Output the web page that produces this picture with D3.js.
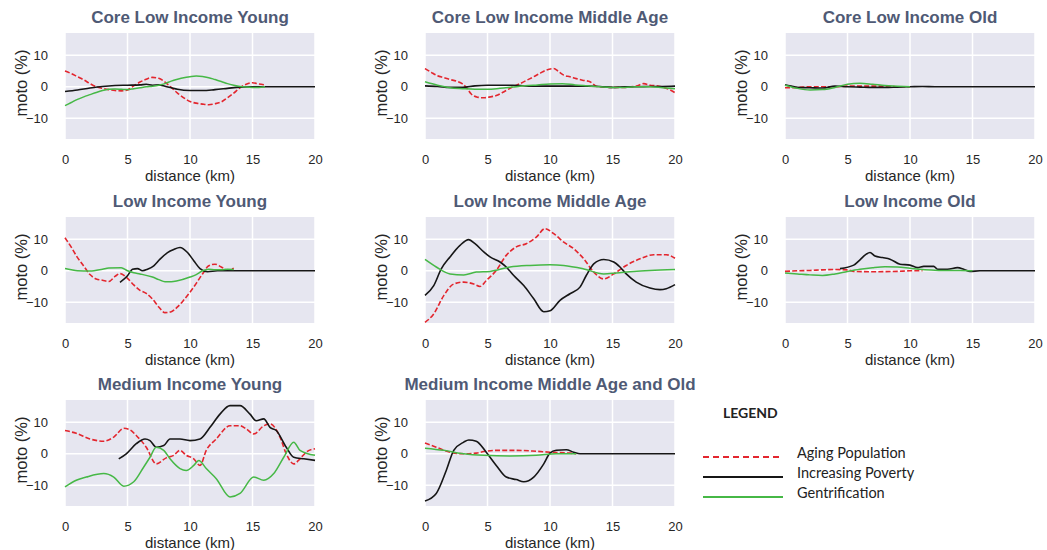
<!DOCTYPE html>
<html>
<head>
<meta charset="utf-8">
<script src="https://cdn.jsdelivr.net/npm/d3@7"></script>
<style>
  body { margin: 0; background: #fff; }
  svg { font-family: "Liberation Sans", Arial, sans-serif; }
  .title { font-weight: bold; font-size: 17px; fill: #4f5a75; }
  .axis text { font-size: 13px; fill: #262626; }
  .lbl { font-size: 15px; fill: #262626; }
  .legend text { font-family: Lato, "Open Sans", sans-serif; fill: #222; }
</style>
</head>
<body>
<div id="chart"></div>
<script>
/**
 * Data (distance km, moto %)
 */
var titles = [
  "Core Low Income Young",
  "Core Low Income Middle Age",
  "Core Low Income Old",
  "Low Income Young",
  "Low Income Middle Age",
  "Low Income Old",
  "Medium Income Young",
  "Medium Income Middle Age and Old"
];
var seriesNames = ["Aging Population", "Increasing Poverty", "Gentrification"];
var xTicks = [0, 5, 10, 15, 20];
var yTicks = [-10, 0, 10];

var coreYoungAging = [[0,5.0],[0.5,4.2],[1,3.2],[1.5,2.2],[2,1.0],[2.5,0.0],[3,-0.5],[3.5,-0.9],[4,-1.2],[4.5,-1.3],[5,-1.0],[5.5,0.3],[6,1.5],[6.5,2.4],[7,3.0],[7.5,2.7],[8,1.5],[8.5,-0.2],[9,-2.0],[9.5,-3.5],[10,-4.7],[10.5,-5.2],[11,-5.5],[11.5,-5.7],[12,-5.4],[12.5,-4.8],[13,-3.5],[13.5,-2.0],[14,-0.3],[14.5,0.8],[15,1.3],[15.5,0.9],[16,0.6]];
var coreYoungPoverty = [[0,-1.5],[1,-1.0],[2,-0.4],[3,0.1],[4,0.4],[5,0.5],[6,0.6],[6.5,0.8],[7,0.5],[7.5,0.6],[8,0.2],[8.5,-0.3],[9,-0.8],[10,-1.2],[11,-1.2],[12,-0.9],[13,-0.5],[14,-0.1],[15,0],[16,0],[17,0],[18,0],[19,0],[20,0]];
var coreYoungGentr = [[0,-6.0],[0.5,-5.0],[1,-4.0],[1.5,-3.2],[2,-2.5],[2.5,-1.8],[3,-1.2],[3.5,-0.8],[4,-0.7],[4.5,-0.8],[5,-0.9],[5.5,-0.6],[6,-0.3],[6.5,0.0],[7,0.2],[7.5,0.5],[8,1.0],[8.5,1.8],[9,2.4],[9.5,2.9],[10,3.2],[10.5,3.4],[11,3.3],[11.5,2.9],[12,2.3],[12.5,1.7],[13,1.0],[13.5,0.5],[14,0.1],[14.5,-0.1],[15,-0.2],[15.5,-0.2],[16,0.0]];

var coreMiddleAging = [[0,5.8],[0.5,4.6],[1,3.5],[1.5,2.9],[2,2.3],[2.5,1.8],[3,0.9],[3.3,-0.2],[3.7,-2.3],[4.2,-3.3],[4.7,-3.5],[5.2,-3.2],[5.7,-2.8],[6.2,-1.8],[6.8,-0.5],[7.2,0.3],[7.6,1.0],[8.2,2.2],[8.7,3.2],[9.2,4.3],[9.7,5.3],[10.3,5.8],[10.7,4.8],[11.1,3.7],[11.6,3.2],[12.1,2.6],[12.6,2.1],[13.2,1.6],[13.7,0.2],[14.3,-0.1],[14.8,-0.2],[15.9,-0.2],[16.9,0.2],[17.5,1.0],[18,0.5],[18.5,0.3],[19.1,-0.2],[19.6,-1.0],[20,-1.9]];
var coreMiddlePoverty = [[0,0.3],[1,0.1],[2,-0.2],[3,-0.2],[4,0.3],[5,0.5],[6,0.5],[7,0.5],[8,0.3],[9,0.2],[10,0.2],[11,0.2],[12,0.2],[13,0.2],[14,0.1],[15,-0.2],[16,0],[17,0],[18,0.1],[19,0.1],[20,0.2]];
var coreMiddleGentr = [[0,1.6],[1,0.5],[2,-0.3],[3,-0.6],[4,-0.8],[5,-0.8],[6,-0.5],[7,-0.1],[8,0.3],[9,0.6],[10,0.9],[11,1.0],[12,0.6],[13,0.3],[14,0],[15,-0.2],[16,-0.2],[17,0],[18,0],[19,-0.3],[20,-0.6]];

var coreOldAging = [[0,-0.3],[1,-0.2],[2,0],[3,0],[4,0],[5,0.2],[6,0.2],[7,0.2],[8,0.2],[9,0],[10,0]];
var coreOldPoverty = [[0,0.6],[0.5,0.2],[1,-0.2],[2,-0.3],[3,-0.4],[4,0.2],[5,0],[6,-0.1],[7,-0.2],[8,-0.2],[9,-0.1],[10,0],[11,0.1],[12,0],[14,0],[16,0],[18,0],[20,0]];
var coreOldGentr = [[0,0.5],[1,-0.5],[2,-1.0],[3,-0.9],[4,-0.2],[5,0.8],[6,1.1],[7,0.8],[8,0.4],[9,0.2],[10,0]];

var lowYoungAging = [[0,10.5],[0.5,7.5],[1,4.2],[1.5,1.5],[2,-1.2],[2.5,-2.6],[3,-3.0],[3.5,-3.4],[4,-1.8],[4.4,-0.9],[5,-2.4],[5.5,-4.5],[6,-6.2],[6.5,-7.2],[7,-9.0],[7.5,-11.5],[8,-13.3],[8.5,-13.0],[9,-11.5],[9.5,-9.3],[10,-6.8],[10.5,-4.0],[11,-1.0],[11.5,1.6],[12,2.1],[12.5,1.2],[13,0.2],[13.5,0.8]];
var lowYoungPoverty = [[4.4,-3.7],[5,-1.6],[5.4,0.5],[5.8,0.7],[6.2,0],[6.6,0.5],[7.1,1.6],[7.6,3.7],[8.2,5.8],[8.7,6.8],[9.2,7.4],[9.8,5.8],[10.3,3.2],[10.8,0.7],[11.4,-0.3],[12.2,0],[14,0],[16,0],[18,0],[20,0]];
var lowYoungGentr = [[0,0.7],[0.5,0.3],[1,0],[2,-0.1],[3,0.5],[3.5,0.9],[4.5,1.0],[5,0],[5.5,-0.6],[6,-1.0],[7,-2.0],[7.5,-2.8],[8,-3.5],[8.5,-3.5],[9,-3.2],[10,-2.0],[10.5,-1.2],[11,0],[11.5,0.5],[12,0.3],[12.5,0.3],[13,0.5],[13.5,0.4]];

var lowMiddleAging = [[0,-16.4],[0.7,-13.7],[1.5,-7.9],[2.3,-4.2],[3.1,-3.6],[3.9,-4.2],[4.4,-5.0],[4.9,-3.1],[5.7,0.1],[6.5,4.9],[7.3,7.6],[8.1,8.6],[8.9,10.7],[9.6,13.4],[10.3,11.8],[11.1,9.1],[11.9,7.0],[12.7,3.8],[13.5,-0.4],[14.3,-2.6],[15.1,-1.0],[16.1,1.7],[17.2,3.8],[18.3,5.1],[19.3,5.1],[20,4.0]];
var lowMiddlePoverty = [[0,-7.8],[0.7,-4.7],[1.3,0.6],[2,4.4],[2.8,8.1],[3.5,9.9],[4,8.6],[4.7,6.0],[5.2,4.4],[6,2.8],[6.5,1.2],[7.1,-1.5],[7.9,-4.7],[8.7,-8.9],[9.5,-13.0],[10,-12.7],[10.8,-9.4],[11.6,-7.3],[12.4,-5.2],[12.9,-1.5],[13.5,2.2],[14.3,3.6],[15.1,2.8],[15.6,1.2],[16.1,-1.0],[16.9,-3.6],[18,-5.5],[18.8,-6.0],[19.3,-5.7],[20,-4.4]];
var lowMiddleGentr = [[0,3.6],[0.9,1.2],[2,-1.0],[3.1,-1.3],[4.1,-0.4],[5.2,-0.2],[6.8,1.2],[8.4,1.7],[10,1.9],[11.1,1.7],[12.7,0.6],[14.3,-1.0],[15.3,-0.7],[16.7,-0.2],[18,0.1],[20,0.4]];

var lowOldAging = [[0,-0.2],[1,0],[2,0.1],[3,0.3],[4,0.4],[5,0.3],[5.5,-0.2],[7,-0.3],[9,-0.2],[10,0],[11,0]];
var lowOldPoverty = [[4.4,0.7],[5.5,1.8],[6,3.5],[6.5,5.3],[6.8,5.8],[7.2,4.7],[7.8,4.2],[8.4,3.7],[9.2,2.1],[10,1.8],[10.6,1.0],[11.1,1.4],[11.9,1.4],[12.2,0.5],[13,0.5],[13.8,1.0],[14.3,0.5],[14.8,-0.2],[15.6,0],[17,0],[18.5,0],[20,0]];
var lowOldGentr = [[0,-0.7],[1,-1.0],[2,-1.3],[3,-1.5],[4,-1.0],[5,-0.2],[6,0.5],[7,1.0],[8,1.3],[9,1.2],[10,0.8],[11,0.4],[12,0.2],[13,0.1],[14,0.1],[15,0]];

var medYoungAging = [[0,7.4],[0.9,6.5],[2,4.7],[3.1,4.0],[3.9,5.3],[4.7,8.1],[5.2,7.6],[5.7,5.8],[6.5,2.1],[7.3,-3.2],[8.1,-1.3],[8.7,-0.5],[9.2,1.1],[9.7,-0.5],[10.3,-1.6],[10.8,-3.7],[11.3,1.1],[12.1,4.7],[13.2,8.9],[14,8.9],[14.5,7.9],[15.1,6.3],[15.9,8.9],[16.4,9.5],[17.2,5.3],[17.7,0],[18.3,-3.2],[18.8,-1.6],[19.3,0.5],[20,1.6]];
var medYoungPoverty = [[4.3,-1.6],[4.9,0],[5.7,3.2],[6.4,4.7],[6.8,4.2],[7.3,2.1],[7.9,2.6],[8.4,4.7],[9.2,4.7],[10,4.2],[10.8,4.7],[11.6,8.4],[12.4,12.6],[13.2,15.3],[14,15.3],[14.8,12.6],[15.3,10.5],[15.9,11.1],[16.4,8.4],[16.9,7.4],[17.7,2.1],[18.3,-1.1],[19.1,-1.6],[20,-2.1]];
var medYoungGentr = [[0,-10.5],[0.9,-8.4],[1.7,-7.4],[3.1,-6.3],[3.9,-7.4],[4.7,-10.3],[5.5,-8.9],[6.3,-4.2],[6.8,-1.1],[7.3,2.1],[7.9,1.1],[8.4,-1.6],[9.2,-4.7],[9.7,-5.3],[10.3,-3.7],[10.7,-2.1],[11.3,-4.7],[12.1,-7.9],[13.2,-13.7],[14,-12.6],[15.1,-7.4],[15.9,-8.4],[16.7,-6.3],[17.5,-1.1],[18.3,3.7],[18.8,1.1],[20,-0.5]];

var medOldAging = [[0,3.4],[0.9,2.1],[2,0.5],[3.1,0],[4.1,0.2],[4.7,0.7],[5.7,1.1],[7.3,1.1],[8.9,0.8],[10,0.5],[11.6,0.2],[12.1,0]];
var medOldPoverty = [[0,-15],[0.9,-12.6],[1.7,-5.3],[2.3,1.1],[3.1,3.7],[3.5,4.4],[4.1,4.0],[4.9,0.5],[5.7,-3.7],[6.5,-7.4],[7.3,-8.2],[7.9,-8.9],[8.7,-7.4],[9.5,-3.2],[10,0.2],[10.5,1.1],[11.3,1.3],[11.9,0.5],[12.4,0],[14,0],[16,0],[18,0],[20,0]];
var medOldGentr = [[0,1.8],[1.5,1.1],[3.1,0],[4.7,-0.5],[6.8,-0.7],[8.9,-0.5],[10.5,0],[12.1,0]];

var panelSeries = [
  [coreYoungAging, coreYoungPoverty, coreYoungGentr],
  [coreMiddleAging, coreMiddlePoverty, coreMiddleGentr],
  [coreOldAging, coreOldPoverty, coreOldGentr],
  [lowYoungAging, lowYoungPoverty, lowYoungGentr],
  [lowMiddleAging, lowMiddlePoverty, lowMiddleGentr],
  [lowOldAging, lowOldPoverty, lowOldGentr],
  [medYoungAging, medYoungPoverty, medYoungGentr],
  [medOldAging, medOldPoverty, medOldGentr]
];

/**
 * Globals
 */
var colLeft = [65, 425, 785];
var rowTop = [33, 217, 400];
var plotW = 250;
var plotH = 106;

var styles = [
  { color: "#e3262e", dash: "5,2.2", width: 1.6 },
  { color: "#161616", dash: null, width: 1.6 },
  { color: "#46b846", dash: null, width: 1.5 }
];

var svg = d3.select("#chart").append("svg")
  .attr("width", 1047)
  .attr("height", 550);

var x = d3.scaleLinear().domain([0, 20]).range([0, plotW]);
var y = d3.scaleLinear().domain([-16.6, 17.1]).range([plotH, 0]);

var line = d3.line()
  .x(function (d) { return x(d[0]); })
  .y(function (d) { return y(d[1]); })
  .curve(d3.curveMonotoneX);

/**
 * Draw one panel
 */
function drawPanel(i) {
  var g = svg.append("g")
    .attr("transform", "translate(" + colLeft[i % 3] + "," + rowTop[Math.floor(i / 3)] + ")");

  // background + grid
  g.append("rect")
    .attr("width", plotW)
    .attr("height", plotH)
    .attr("fill", "#e6e6f0");

  g.selectAll(".vgrid").data(xTicks).enter().append("line")
    .attr("x1", function (d) { return x(d); })
    .attr("x2", function (d) { return x(d); })
    .attr("y1", 0).attr("y2", plotH)
    .attr("stroke", "#fff").attr("stroke-width", 1.5);

  g.selectAll(".hgrid").data(yTicks).enter().append("line")
    .attr("x1", 0).attr("x2", plotW)
    .attr("y1", function (d) { return y(d); })
    .attr("y2", function (d) { return y(d); })
    .attr("stroke", "#fff").attr("stroke-width", 1.5);

  // axes (labels only)
  g.append("g")
    .attr("class", "axis")
    .attr("transform", "translate(0," + plotH + ")")
    .call(d3.axisBottom(x).tickValues(xTicks).tickSize(0).tickPadding(16))
    .call(function (a) { a.select(".domain").remove(); });

  g.append("g")
    .attr("class", "axis")
    .call(d3.axisLeft(y).tickValues(yTicks).tickSize(0).tickPadding(17)
      .tickFormat(function (d) { return d < 0 ? "\u2212" + Math.abs(d) : d; }))
    .call(function (a) { a.select(".domain").remove(); });

  // series
  panelSeries[i].forEach(function (s, k) {
    g.append("path")
      .datum(s)
      .attr("fill", "none")
      .attr("stroke", styles[k].color)
      .attr("stroke-width", styles[k].width)
      .attr("stroke-dasharray", styles[k].dash)
      .attr("d", line);
  });

  // titles and labels
  g.append("text")
    .attr("class", "title")
    .attr("x", plotW / 2)
    .attr("y", -10)
    .attr("text-anchor", "middle")
    .text(titles[i]);

  g.append("text")
    .attr("class", "lbl")
    .attr("x", plotW / 2)
    .attr("y", plotH + 42)
    .attr("text-anchor", "middle")
    .text("distance (km)");

  g.append("text")
    .attr("class", "lbl")
    .attr("transform", "translate(-38," + (plotH / 2 - 3) + ") rotate(-90)")
    .attr("text-anchor", "middle")
    .style("font-size", "16.5px")
    .text("moto (%)");
}

titles.forEach(function (t, i) {
  drawPanel(i);
});

/**
 * Legend
 */
var legend = svg.append("g").attr("class", "legend");

legend.append("text")
  .attr("x", 723)
  .attr("y", 418)
  .style("font-weight", "bold")
  .style("font-size", "14px")
  .text("LEGEND");

var legendY = [457, 477, 497];

seriesNames.forEach(function (name, k) {
  legend.append("line")
    .attr("x1", 703).attr("x2", 783)
    .attr("y1", legendY[k]).attr("y2", legendY[k])
    .attr("stroke", styles[k].color)
    .attr("stroke-width", 2)
    .attr("stroke-dasharray", k === 0 ? "6,4" : null);

  legend.append("text")
    .attr("x", 797)
    .attr("y", legendY[k] + 1)
    .style("font-size", "14.5px")
    .text(name);
});
</script>
</body>
</html>
